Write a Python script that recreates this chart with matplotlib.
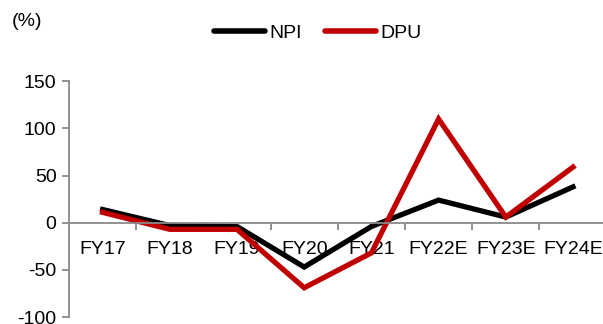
import matplotlib
matplotlib.use("Agg")
import matplotlib.pyplot as plt
from matplotlib.ticker import FixedLocator, NullFormatter, FixedFormatter

plt.rcParams['font.family'] = ['Liberation Sans', 'DejaVu Sans']
plt.rcParams['axes.unicode_minus'] = False

categories = ["FY17", "FY18", "FY19", "FY20", "FY21", "FY22E", "FY23E", "FY24E"]
npi = [14, -3, -4, -47, -4, 24, 6, 38]
dpu = [11, -7, -7, -69, -32, 110, 6, 59]
y_ticks = [-100, -50, 0, 50, 100, 150]

fig = plt.figure(figsize=(6.03, 3.24), dpi=100)
W, H = 603, 324
left_px, top_px, bottom_px = 69, 81.3, 317
cat_w = 67.2
ax = fig.add_axes([left_px / W, 1 - bottom_px / H,
                   cat_w * len(categories) / W, (bottom_px - top_px) / H])

x = list(range(len(categories)))
ax.plot(x, npi, color="black", lw=3.8, label="NPI", solid_joinstyle="miter")
ax.plot(x, dpu, color="#C00000", lw=3.8, label="DPU", solid_joinstyle="miter")

ax.set_xlim(-0.5, len(categories) - 0.5)
ax.set_ylim(-100, 150)

grey = "#898989"
for s in ("top", "right"):
    ax.spines[s].set_visible(False)
ax.spines["left"].set_color(grey)
ax.spines["left"].set_linewidth(1.3)
ax.spines["bottom"].set_position(("data", 0))
ax.spines["bottom"].set_color(grey)
ax.spines["bottom"].set_linewidth(1.3)

ax.set_yticks(y_ticks)
ax.tick_params(axis="y", length=5, width=1.3, color=grey, pad=4, labelsize=14)

# category boundaries carry the tick marks, centres carry the labels
ax.xaxis.set_major_locator(FixedLocator([i + 0.5 for i in range(len(categories) - 1)]))
ax.xaxis.set_major_formatter(NullFormatter())
ax.xaxis.set_minor_locator(FixedLocator(x))
ax.xaxis.set_minor_formatter(FixedFormatter(categories))
ax.tick_params(axis="x", which="major", direction="out", length=5, width=1.3, color=grey)
ax.tick_params(axis="x", which="minor", length=0, pad=13, labelsize=14)

fig.text(12 / W, 1 - 21 / H, "(%)", fontsize=14, va="center", ha="left")

leg = fig.legend(loc="center", bbox_to_anchor=(318 / W, 1 - 33 / H), ncol=2,
                 frameon=False, fontsize=14, handlelength=2.6, handletextpad=0.25,
                 columnspacing=1.2)
for line in leg.get_lines():
    line.set_solid_capstyle("round")
    line.set_linewidth(4)

fig.savefig("out.png", dpi=100)
